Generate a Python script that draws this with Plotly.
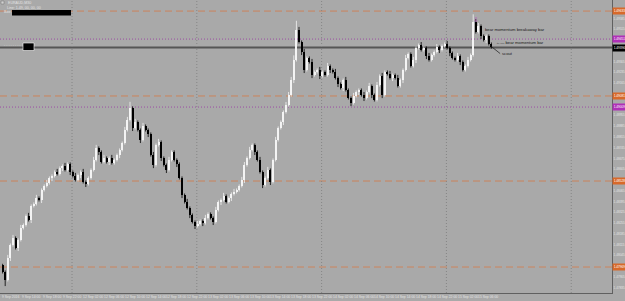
import plotly.graph_objects as go

symbol = "EURAUD,M30"
first_open = 1.47980
close = [
1.47937,1.47885,1.48028,1.48112,1.48158,1.48093,1.48145,1.48223,1.48242,1.48301,
1.48275,1.48366,1.48379,1.48418,1.48405,1.48470,1.48496,1.48515,1.48548,1.48561,
1.48587,1.48574,1.48613,1.48626,1.48600,1.48639,1.48587,1.48561,1.48535,1.48567,
1.48587,1.48522,1.48509,1.48548,1.48600,1.48665,1.48743,1.48717,1.48652,1.48678,
1.48652,1.48678,1.48645,1.48665,1.48697,1.48730,1.48775,1.48860,1.48925,1.49003,
1.48873,1.48912,1.48860,1.48795,1.48886,1.48860,1.48834,1.48697,1.48632,1.48762,
1.48782,1.48678,1.48632,1.48600,1.48665,1.48717,1.48665,1.48639,1.48548,1.48437,
1.48392,1.48353,1.48307,1.48262,1.48236,1.48249,1.48268,1.48255,1.48288,1.48314,
1.48288,1.48262,1.48340,1.48392,1.48405,1.48431,1.48392,1.48418,1.48444,1.48457,
1.48470,1.48496,1.48535,1.48632,1.48678,1.48730,1.48762,1.48717,1.48665,1.48587,
1.48502,1.48548,1.48600,1.48522,1.48665,1.48795,1.48873,1.48912,1.48977,1.49022,
1.49087,1.49185,1.49315,1.49510,1.49432,1.49367,1.49250,1.49328,1.49302,1.49217,
1.49237,1.49250,1.49211,1.49237,1.49217,1.49276,1.49250,1.49237,1.49198,1.49159,
1.49133,1.49185,1.49120,1.49068,1.49035,1.49081,1.49107,1.49120,1.49087,1.49068,
1.49107,1.49146,1.49087,1.49055,1.49152,1.49211,1.49087,1.49237,1.49224,1.49198,
1.49217,1.49198,1.49146,1.49185,1.49250,1.49328,1.49354,1.49276,1.49315,1.49393,
1.49412,1.49380,1.49393,1.49341,1.49315,1.49347,1.49367,1.49399,1.49380,1.49406,
1.49419,1.49393,1.49360,1.49328,1.49315,1.49341,1.49302,1.49250,1.49276,1.49315,
1.49347,1.49562,1.49497,1.49536,1.49471,1.49445,1.49471,1.49419,1.49399,
]
wick_up_pips = [
1,1,2,1,2,1,1,2,1,1, 2,1,1,2,1,1,1,2,1,1, 1,2,1,1,2,1,1,1,2,1,
1,2,1,1,1,2,2,1,1,2, 1,1,2,1,1,1,1,2,2,4, 1,2,1,1,2,1,1,1,2,1,
2,1,1,1,2,1,1,1,1,1, 1,2,1,1,1,2,1,1,2,1, 1,1,2,1,1,2,1,1,1,2,
1,1,2,2,1,2,1,1,1,2, 1,1,2,1,1,2,1,1,1,2, 2,2,3,6,2,1,2,1,1,2,
1,1,2,1,1,2,1,1,2,1, 1,1,2,1,1,2,1,1,1,2, 1,2,1,1,2,1,2,1,1,2,
1,1,2,1,1,2,1,1,2,1, 1,2,1,1,2,1,1,2,1,1, 1,2,1,1,1,2,1,1,1,2,
1,5,2,2,1,1,1,1,1,
]
wick_dn_pips = [
1,4,1,2,1,1,2,1,1,1, 1,2,1,1,1,2,1,1,1,2, 1,1,1,2,1,1,2,1,1,1,
2,1,2,1,1,1,1,2,1,1, 1,2,1,1,1,2,1,1,1,1, 2,1,1,2,1,1,2,1,2,1,
1,2,1,2,1,1,1,2,1,2, 1,1,2,1,2,1,1,2,1,1, 1,2,1,1,2,1,1,1,2,1,
1,1,1,2,1,1,1,2,1,1, 2,1,1,2,1,1,1,1,2,1, 1,1,2,1,1,2,2,1,1,2,
1,1,2,1,1,1,2,1,1,2, 1,2,1,1,2,1,1,2,1,2, 1,1,2,1,1,1,2,1,1,1,
2,1,1,1,2,1,1,1,1,2, 1,1,1,2,1,1,1,1,2,1, 1,1,2,1,1,1,2,1,1,1,
1,1,1,1,2,1,2,1,1,
]
time_labels = [
"9 Sep 2016", "9 Sep 14:00", "9 Sep 18:00", "9 Sep 22:00",
"12 Sep 02:00", "12 Sep 06:00", "12 Sep 10:00", "12 Sep 14:00", "12 Sep 18:00", "12 Sep 22:00",
"13 Sep 02:00", "13 Sep 06:00", "13 Sep 10:00", "13 Sep 14:00", "13 Sep 18:00", "13 Sep 22:00",
"14 Sep 02:00", "14 Sep 06:00", "14 Sep 10:00", "14 Sep 14:00", "14 Sep 18:00", "14 Sep 22:00",
"15 Sep 02:00", "15 Sep 06:00",
]
level_prices = [1.49633, 1.49451, 1.49396, 1.49081, 1.49009, 1.48528, 1.47969]
level_kinds = ["sr", "pivot", "bid", "sr", "pivot", "sr", "sr"]
notes = ["bear momentum breakaway bar", "\u2190\u2014 bear momentum bar", "scout"]

PIP = 0.0001
Y_MIN, Y_MAX = 1.47800, 1.49705
TICK0, DTICK = 1.47835, 0.0007

opens = [first_open] + close[:-1]
highs = [max(o, c) + u * PIP for o, c, u in zip(opens, close, wick_up_pips)]
lows = [min(o, c) - d * PIP for o, c, d in zip(opens, close, wick_dn_pips)]
xs = list(range(len(close)))

BG = "#a9a9a9"
ORANGE_LINE = "#cc845c"
ORANGE_TAG = "#d8692a"
PURPLE_LINE = "#9c4ca4"
PURPLE_TAG = "#b030b8"
TXT = "#e4e4e4"
FONT = "Liberation Sans"

W, H = 625, 301
PW, PH = 612, 293

def px(x):
    return x / PW

def py(y):
    return 1 - y / PH

fig = go.Figure()
for up, col in [(True, "#f4f4f4"), (False, "#000000")]:
    idx = [i for i in xs if (close[i] >= opens[i]) == up]
    wx, wy = [], []
    for i in idx:
        wx += [i, i, None]
        wy += [lows[i], highs[i], None]
    fig.add_trace(go.Scatter(x=wx, y=wy, mode="lines", line=dict(color=col, width=0.8),
                             hoverinfo="skip", showlegend=False))
    fig.add_trace(go.Bar(x=idx, y=[max(abs(close[i] - opens[i]), 0.00003) for i in idx],
                         base=[min(close[i], opens[i]) for i in idx], width=0.45,
                         marker=dict(color=col, line=dict(width=0)),
                         hoverinfo="skip", showlegend=False))

shapes = []
annotations = []
styles = {
    "sr": dict(color=ORANGE_LINE, dash="7px,4px", width=1),
    "pivot": dict(color=PURPLE_LINE, dash="1px,2px", width=1),
    "bid": dict(color="#555555", dash="solid", width=2),
}
tag_colors = {"sr": ORANGE_TAG, "pivot": PURPLE_TAG, "bid": "#000000"}
for p, k in zip(level_prices, level_kinds):
    shapes.append(dict(type="line", xref="paper", yref="y", x0=0, x1=1, y0=p, y1=p,
                       line=styles[k], layer="below"))
    annotations.append(dict(xref="paper", yref="y", x=1.0, y=p, xanchor="left", yanchor="middle",
                            text=f"{p:.5f}", showarrow=False, bgcolor=tag_colors[k],
                            font=dict(size=3.2, color="#ffffff", family=FONT),
                            borderpad=1, width=11))

# vertical dotted grid
for k in range(5):
    xv = 26.7 + 48 * k
    shapes.append(dict(type="line", xref="x", yref="paper", x0=xv, x1=xv, y0=0, y1=1,
                       line=dict(color="#858585", dash="1px,2px", width=1), layer="below"))

# top-left info objects
shapes.append(dict(type="rect", xref="paper", yref="paper", x0=px(12), x1=px(71), y0=py(15.5), y1=py(10),
                   fillcolor="#000000", line=dict(width=0)))
shapes.append(dict(type="rect", xref="paper", yref="paper", x0=px(23), x1=px(34), y0=py(50.5), y1=py(43),
                   fillcolor="#000000", line=dict(color="#ffffff", width=0.6)))
shapes.append(dict(type="rect", xref="paper", yref="paper", x0=px(1), x1=px(4), y0=py(4), y1=py(1),
                   fillcolor="#d0d0d0", line=dict(color="#707070", width=0.5)))
for text, x, y in [(symbol, 6, 3), ("Line: 1.49, 00, 00, 00", 5, 7.5), ("Box:", 2, 12.5),
                   ("- - - - - - - -", 2, 45)]:
    annotations.append(dict(xref="paper", yref="paper", x=px(x), y=py(y), xanchor="left", yanchor="middle",
                            text=text, showarrow=False,
                            font=dict(size=3.6, color=TXT, family=FONT)))

# chart notes
annotations.append(dict(xref="x", yref="y", x=182.5, y=close[182], xanchor="left", yanchor="middle",
                        text=notes[0], showarrow=False, xshift=6, yshift=2,
                        font=dict(size=4.2, color="#1a1a1a", family=FONT)))
annotations.append(dict(xref="x", yref="y", x=188, y=close[185], xanchor="left", yanchor="middle",
                        text=notes[1], showarrow=False, xshift=3, yshift=-3,
                        font=dict(size=4.2, color="#1a1a1a", family=FONT)))
annotations.append(dict(xref="x", yref="y", x=187.5, y=lows[187], text=notes[2],
                        showarrow=True, arrowhead=0, arrowwidth=0.7, arrowcolor="#1a1a1a",
                        ax=10, ay=8, xanchor="left", yanchor="middle",
                        font=dict(size=4.2, color="#1a1a1a", family=FONT)))
annotations.append(dict(xref="x", yref="y", x=182, y=highs[181], text="\u21e9", showarrow=False,
                        yshift=-6, font=dict(size=7, color="#b860c0", family="DejaVu Sans")))

# time labels under the axis
for k, lab in enumerate(time_labels):
    annotations.append(dict(xref="x", yref="paper", x=2.85 + 8 * k, y=py(297), text=lab,
                            showarrow=False, xanchor="center", yanchor="middle",
                            font=dict(size=3.4, color=TXT, family=FONT)))

# price ticks, hidden where a level tag covers them (as in the terminal)
n_ticks = int((Y_MAX - TICK0) / DTICK) + 1
ppx = (Y_MAX - Y_MIN) / PH
tickvals = [TICK0 + DTICK * j for j in range(n_ticks)]
tickvals = [t for t in tickvals if all(abs(t - p) / ppx > 6 for p in level_prices)]

fig.update_layout(
    width=W, height=H,
    margin=dict(l=0, r=W - PW, t=0, b=H - PH),
    paper_bgcolor=BG, plot_bgcolor=BG,
    shapes=shapes, annotations=annotations,
    showlegend=False, barmode="overlay", bargap=0,
    xaxis=dict(range=[-1, PW / 2.6 - 1], showgrid=False, zeroline=False,
               showticklabels=False, ticks="",
               showline=True, linecolor="#606060", linewidth=1, automargin=False, fixedrange=True),
    yaxis=dict(range=[Y_MIN, Y_MAX], side="right", showgrid=False, zeroline=False,
               tickmode="array", tickvals=tickvals, ticktext=[f"{t:.5f}" for t in tickvals],
               tickfont=dict(size=3.1, color=TXT, family=FONT), ticks="", ticklen=0,
               ticklabelstandoff=0,
               showline=True, linecolor="#606060", linewidth=1,
               automargin=False, fixedrange=True),
)

fig.write_html("out.html")
